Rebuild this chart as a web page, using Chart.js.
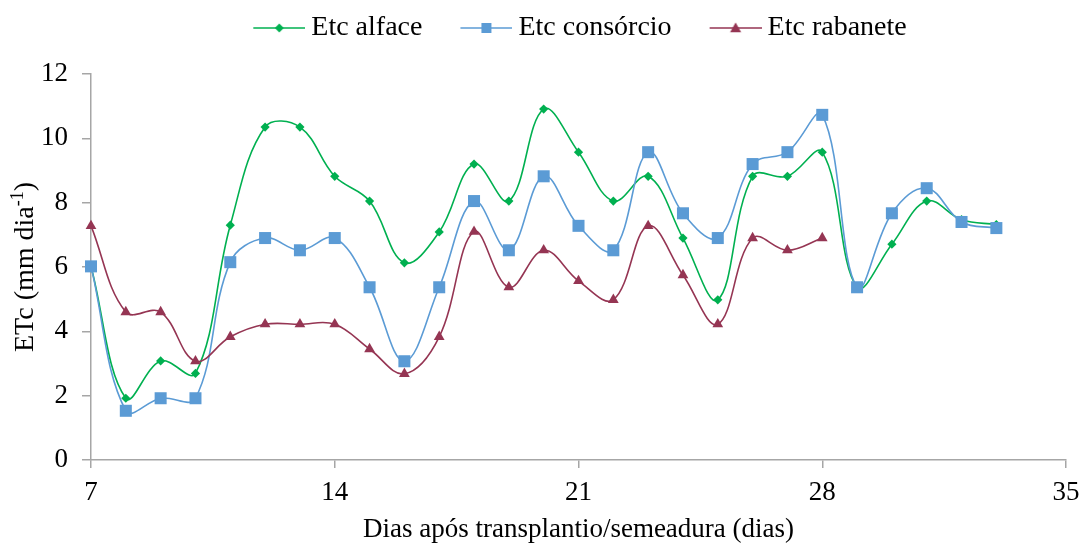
<!DOCTYPE html>
<html><head><meta charset="utf-8">
<script src="https://cdn.jsdelivr.net/npm/chart.js@4/dist/chart.umd.min.js"></script>
<style>html,body{margin:0;padding:0;background:#fff;overflow:hidden}</style>
</head><body>
<canvas id="c" width="1081" height="546"></canvas>
<script>
const days = [7,8,9,10,11,12,13,14,15,16,17,18,19,20,21,22,23,24,25,26,27,28,29,30,31,32,33];
const etcAlface = [6.02,1.92,3.08,2.69,7.30,10.35,10.35,8.82,8.05,6.13,7.09,9.20,8.05,10.91,9.57,8.05,8.82,6.90,4.98,8.82,8.82,9.57,5.37,6.71,8.05,7.47,7.32];
const etcConsorcio = [6.02,1.53,1.92,1.92,6.15,6.90,6.52,6.90,5.37,3.07,5.37,8.05,6.52,8.82,7.28,6.52,9.57,7.67,6.90,9.20,9.57,10.73,5.37,7.67,8.45,7.40,7.21];
const etcRabanete = [7.28,4.60,4.60,3.07,3.83,4.22,4.22,4.22,3.45,2.68,3.83,7.10,5.37,6.52,5.57,4.98,7.28,5.75,4.22,6.90,6.52,6.90];
const xTicks = [7,14,21,28,35];
const yTicks = [0,2,4,6,8,10,12];
const seriesNames = ['Etc alface','Etc consórcio','Etc rabanete'];
const colors = ['#00B050','#5B9BD5','#953553'];

const FONT = 'Liberation Serif';
const AXIS = '#A6A6A6';

function pts(vals){ return vals.map((v,i)=>({x:days[i], y:v})); }

function drawMarker(g, kind, x, y, s){
  g.beginPath();
  if(kind==='diamond'){ g.moveTo(x,y-s); g.lineTo(x+s,y); g.lineTo(x,y+s); g.lineTo(x-s,y); }
  else if(kind==='square'){ g.rect(x-s,y-s,2*s,2*s); }
  else { g.moveTo(x,y-s); g.lineTo(x+s,y+s*0.75); g.lineTo(x-s,y+s*0.75); }
  g.closePath(); g.fill();
}
function legendIcon(color, kind, s){
  const c = document.createElement('canvas'); c.width = 84; c.height = 20;
  const g = c.getContext('2d');
  g.strokeStyle = color; g.lineWidth = 1.6;
  g.beginPath(); g.moveTo(32,10); g.lineTo(84,10); g.stroke();
  g.fillStyle = color; drawMarker(g, kind, 58, 10, s);
  return c;
}
const icons = [legendIcon(colors[0],'diamond',4.5), legendIcon(colors[1],'square',5), legendIcon(colors[2],'triangle',5.5)];

const yTitlePlugin = {
  id:'yTitle',
  afterLayout(chart){
    const lg = chart.legend;
    if(lg){ lg.left += 27.5; lg.right += 27.5; lg.top -= 22; lg.bottom -= 22; }
  },
  afterDraw(chart){
    const ctx = chart.ctx, a = chart.chartArea;
    const cy = (a.top + a.bottom)/2;
    const p1 = 'ETc (mm dia', p2 = '-1', p3 = ')';
    ctx.save();
    ctx.fillStyle = '#000';
    ctx.textBaseline = 'alphabetic'; ctx.textAlign = 'left';
    ctx.font = '28px "'+FONT+'"'; const w1 = ctx.measureText(p1).width, w3 = ctx.measureText(p3).width;
    ctx.font = '18px "'+FONT+'"'; const w2 = ctx.measureText(p2).width;
    const total = w1+w2+w3;
    ctx.translate(33, cy); ctx.rotate(-Math.PI/2);
    let x = -total/2;
    ctx.font = '28px "'+FONT+'"'; ctx.fillText(p1, x, 0); x += w1;
    ctx.font = '18px "'+FONT+'"'; ctx.fillText(p2, x, -10); x += w2;
    ctx.font = '28px "'+FONT+'"'; ctx.fillText(p3, x, 0);
    ctx.restore();
  }
};

const mk = (i, data, style, r) => ({
  label: seriesNames[i], data: pts(data), borderColor: colors[i], backgroundColor: colors[i],
  borderWidth: 1.6, pointStyle: style, pointRadius: r, pointBorderWidth: 0, pointBackgroundColor: colors[i],
  tension: 0.38, fill: false, clip: false, order: 3-i
});

new Chart(document.getElementById('c'), {
  type: 'line',
  data: { datasets: [ mk(0, etcAlface, 'rectRot', 4.6), mk(1, etcConsorcio, 'rect', 8.5), mk(2, etcRabanete, 'triangle', 6.2) ] },
  options: {
    responsive: false, devicePixelRatio: 1, animation: false,
    layout: { padding: { left: 0, right: 0, top: 0, bottom: 0 } },
    plugins: {
      tooltip: { enabled: false },
      legend: {
        position: 'top', align: 'center',
        labels: {
          usePointStyle: true, pointStyleWidth: 68, padding: 14, color: '#000',
          font: { family: FONT, size: 28 },
          generateLabels: (chart) => seriesNames.map((n,i)=>({
            text: n, pointStyle: icons[i], fillStyle: colors[i], strokeStyle: colors[i], lineWidth: 0,
            datasetIndex: i, hidden: false, fontColor: '#000'
          }))
        }
      }
    },
    scales: {
      x: {
        type: 'linear', min: 7, max: 35,
        afterBuildTicks: s => { s.ticks = xTicks.map(v=>({value:v})); },
        afterFit: s => { s.height = 86; s.paddingRight = 15; s.paddingLeft = 10; },
        grid: { display: true, drawOnChartArea: false, drawTicks: true, tickLength: 8, color: AXIS, lineWidth: 1.5 },
        border: { display: true, color: AXIS, width: 1.5 },
        ticks: { color: '#000', font: { family: FONT, size: 27 }, padding: 9, maxRotation: 0, autoSkip: false },
        title: { display: true, text: 'Dias após transplantio/semeadura (dias)', color: '#000', font: { family: FONT, size: 27 }, padding: { top: 0, bottom: 0 } }
      },
      y: {
        type: 'linear', min: 0, max: 12,
        afterBuildTicks: s => { s.ticks = yTicks.map(v=>({value:v})); },
        afterFit: s => { s.width = 91; s.paddingTop = 74; },
        grid: { display: true, drawOnChartArea: false, drawTicks: true, tickLength: 9, color: AXIS, lineWidth: 1.5 },
        border: { display: true, color: AXIS, width: 1.5 },
        ticks: { color: '#000', font: { family: FONT, size: 27 }, padding: 14 }
      }
    }
  },
  plugins: [yTitlePlugin]
});
</script>
</body></html>
